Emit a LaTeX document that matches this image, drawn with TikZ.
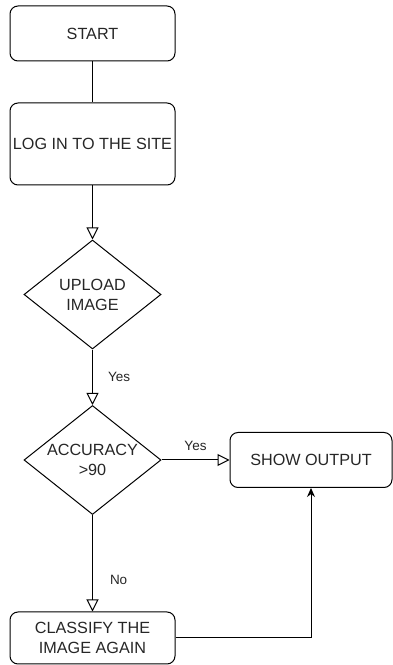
\documentclass[tikz,border=0pt]{standalone}
\usepackage{fontspec}
\setmainfont{Liberation Sans}
\newfontfamily\docfont{Liberation Serif}
\usetikzlibrary{arrows.meta,shapes.geometric}

\begin{document}
\begin{tikzpicture}[x=1pt,y=1pt,line width=1pt,
    every node/.style={font=\fontsize{16.2}{20}\selectfont,align=center,text=black!85},
    stepbox/.style={draw=black,rounded corners=8pt,minimum width=165pt,inner sep=0pt},
    choice/.style={draw=black,diamond,minimum width=137pt,minimum height=109pt,inner sep=-4pt},
    flow/.style={-{Triangle[open,length=12pt,width=12pt]}},
    lbl/.style={font=\fontsize{13.5}{16}\selectfont,inner sep=0pt}]
    \useasboundingbox (0,0) rectangle (393,665);
    \begin{scope}
      \clip (0,0) rectangle (393,665);
      \node[font=\docfont\fontsize{26}{30}\selectfont,anchor=base west,inner sep=0pt] (caption) at (7,669) {deal with within our Model.};
    \end{scope}
    \node[stepbox,minimum height=55pt] (start) at (92.5,631.5) {START};
    \node[stepbox,minimum height=82pt] (login) at (92.5,521) {LOG IN TO THE SITE};
    \node[choice] (upload) at (92.5,370.5) {UPLOAD\\IMAGE};
    \node[choice] (accuracy) at (92.5,205) {ACCURACY\\>90};
    \node[stepbox,minimum width=162pt,minimum height=55pt] (show) at (311,205) {SHOW OUTPUT};
    \node[stepbox,minimum height=52pt] (classify) at (92.5,27) {CLASSIFY THE\\IMAGE AGAIN};
    \draw (start) -- (login);
    \draw[flow] (login) -- (upload);
    \draw[flow] (upload) -- node[lbl,right=15pt] {Yes} (accuracy);
    \draw[flow] (accuracy) -- node[lbl,above=9pt] {Yes} (show);
    \draw[flow] (accuracy) -- node[lbl,right=17pt,pos=0.67] {No} (classify);
    \draw[-{Stealth[length=9pt,width=8pt]}] (classify.east) -| (show.south);
  \end{tikzpicture}
\end{document}
